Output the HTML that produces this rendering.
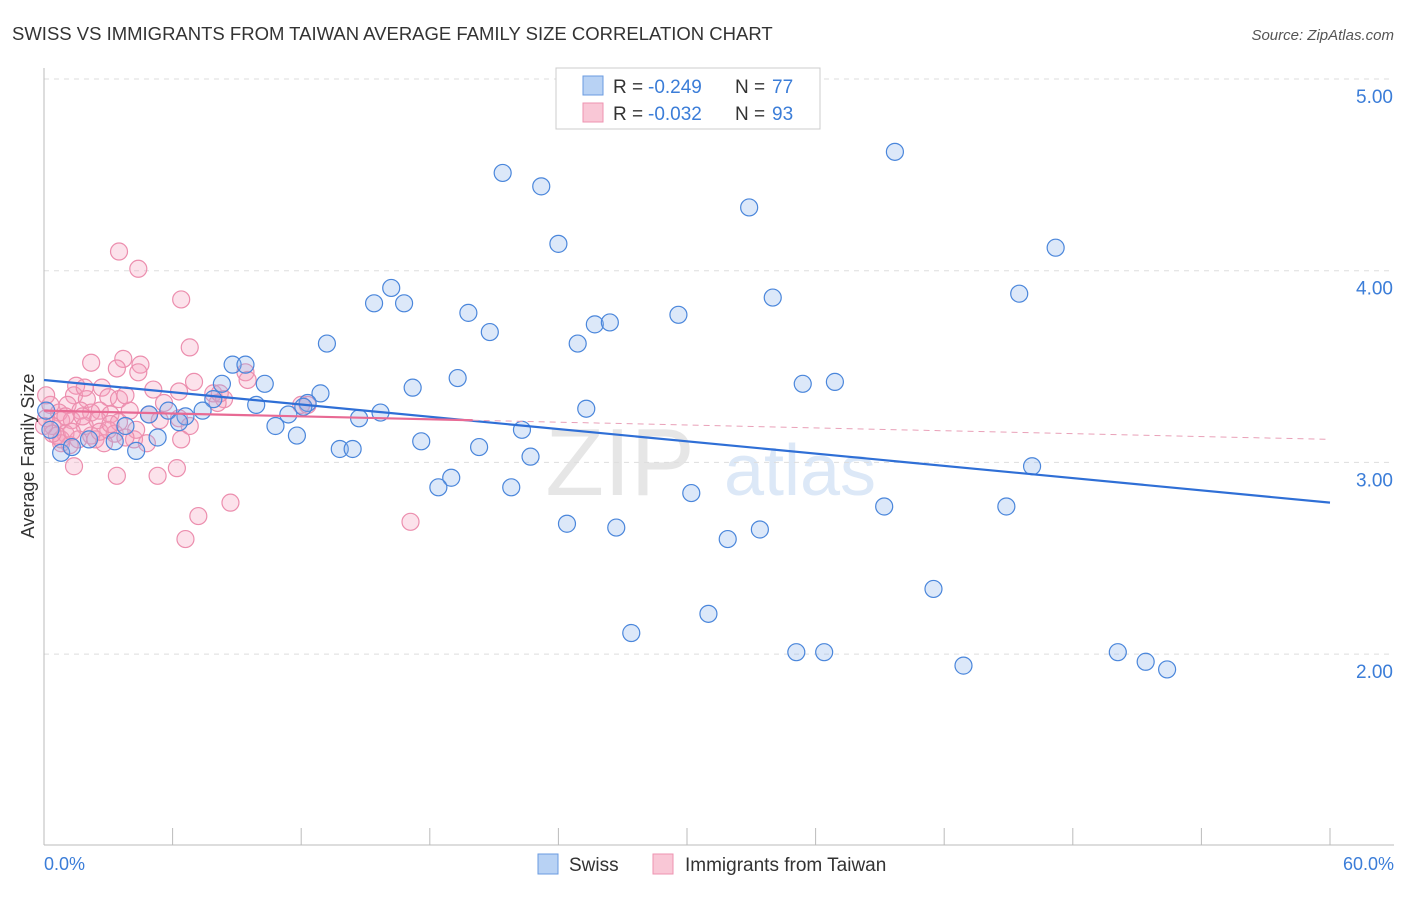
<!DOCTYPE html>
<html><head><meta charset="utf-8"><style>
body{margin:0;background:#fff;font-family:"Liberation Sans",sans-serif}
svg text{font-family:"Liberation Sans",sans-serif}
</style></head><body>
<svg id="chart" width="1406" height="892" xmlns="http://www.w3.org/2000/svg">
<text x="12" y="40" font-size="18.5" fill="#333">SWISS VS IMMIGRANTS FROM TAIWAN AVERAGE FAMILY SIZE CORRELATION CHART</text>
<text x="1394" y="40" font-size="15" fill="#555" font-style="italic" text-anchor="end">Source: ZipAtlas.com</text>
<text x="620" y="495" font-size="96" fill="#e6e6e6" font-family="Liberation Serif" text-anchor="middle">ZIP</text>
<text x="800" y="495" font-size="72" fill="#dce8f7" text-anchor="middle">atlas</text>
<g id="grid"></g>
<g id="axes"></g>
<g id="pink"></g>
<g id="blue"></g>
<g id="trends"></g>
<text transform="translate(34,456) rotate(-90)" font-size="18" fill="#333" text-anchor="middle">Average Family Size</text>
<text x="44" y="870" font-size="18" fill="#3b7dd8">0.0%</text>
<text x="1394" y="870" font-size="18" fill="#3b7dd8" text-anchor="end">60.0%</text>
<g>
<rect x="556" y="68" width="264" height="61" fill="#fff" stroke="#ccc"/>
<rect x="583" y="76" width="20" height="19" fill="#b8d2f4" stroke="#6a9be0"/>
<rect x="583" y="103" width="20" height="19" fill="#f9c7d6" stroke="#ee93b0"/>
<text x="613" y="93" font-size="19" fill="#333">R =</text>
<text x="648" y="93" font-size="19" fill="#3b7dd8">-0.249</text>
<text x="735" y="93" font-size="19" fill="#333">N =</text>
<text x="772" y="93" font-size="19" fill="#3b7dd8">77</text>
<text x="613" y="120" font-size="19" fill="#333">R =</text>
<text x="648" y="120" font-size="19" fill="#3b7dd8">-0.032</text>
<text x="735" y="120" font-size="19" fill="#333">N =</text>
<text x="772" y="120" font-size="19" fill="#3b7dd8">93</text>
</g>
<g>
<rect x="538" y="854" width="20" height="20" fill="#b8d2f4" stroke="#6a9be0"/>
<text x="569" y="871" font-size="19" fill="#333">Swiss</text></g>
<g>
<rect x="653" y="854" width="20" height="20" fill="#f9c7d6" stroke="#ee93b0"/>
<text x="685" y="871" font-size="19" fill="#333">Immigrants from Taiwan</text></g>
</svg>
<script>
const yTicks=[2,3,4,5];
const yTickLabels=["2.00","3.00","4.00","5.00"];
const xTicks=[0,6,12,18,24,30,36,42,48,54,60];
const blueX=[39.7,21.4,23.2,32.9,24.0,47.2,16.2,15.4,16.8,34.0,45.5,19.8,29.6,25.7,26.4,20.8,24.9,13.2,8.8,9.4,10.3,8.3,19.3,17.2,35.4,36.9,12.9,7.9,9.9,12.3,12.1,7.4,5.8,4.9,6.6,11.4,15.7,14.7,25.3,6.3,3.8,10.8,22.3,11.8,5.3,3.3,17.6,20.3,13.8,14.4,4.3,0.8,1.3,22.7,46.1,19.0,18.4,21.8,30.2,39.2,44.9,24.4,26.7,33.4,31.9,41.5,31.0,27.4,35.1,36.4,42.9,50.1,51.4,52.4,0.3,2.1,0.1];
const blueY=[4.62,4.51,4.44,4.33,4.14,4.12,3.91,3.83,3.83,3.86,3.88,3.78,3.77,3.72,3.73,3.68,3.62,3.62,3.51,3.51,3.41,3.41,3.44,3.39,3.41,3.42,3.36,3.33,3.30,3.31,3.29,3.27,3.27,3.25,3.24,3.25,3.26,3.23,3.28,3.21,3.19,3.19,3.17,3.14,3.13,3.11,3.11,3.08,3.07,3.07,3.06,3.05,3.08,3.03,2.98,2.92,2.87,2.87,2.84,2.77,2.77,2.68,2.66,2.65,2.60,2.34,2.21,2.11,2.01,2.01,1.94,2.01,1.96,1.92,3.17,3.12,3.27];
const pinkX=[3.5,4.4,6.4,6.8,2.2,3.7,4.5,4.4,3.4,9.4,9.5,7.0,1.5,2.7,5.1,6.3,7.9,8.4,3.0,1.4,2.0,3.5,5.6,8.1,12.0,1.1,0.3,1.7,2.6,4.0,0.7,2.2,3.1,4.9,6.3,0.1,0.8,1.3,2.5,3.5,5.4,6.8,0.4,1.9,3.0,1.0,3.3,2.2,0.6,1.6,2.4,6.4,4.8,1.2,0.8,2.8,4.2,1.4,3.4,6.2,5.3,8.7,7.2,6.6,17.1,0.1,0.8,3.8,1.9,2.6,1.0,1.8,0.4,0.0,1.3,3.1,4.3,8.2,12.3,3.8];
const pinkY=[4.10,4.01,3.85,3.60,3.52,3.54,3.51,3.47,3.49,3.47,3.43,3.42,3.40,3.39,3.38,3.37,3.36,3.33,3.34,3.35,3.33,3.33,3.31,3.31,3.30,3.30,3.30,3.27,3.27,3.27,3.26,3.26,3.25,3.25,3.23,3.23,3.22,3.22,3.22,3.21,3.22,3.19,3.19,3.19,3.17,3.15,3.15,3.14,3.14,3.12,3.12,3.12,3.10,3.09,3.10,3.10,3.12,2.98,2.93,2.97,2.93,2.79,2.72,2.60,2.69,3.35,3.12,3.35,3.39,3.16,3.24,3.24,3.15,3.19,3.16,3.20,3.17,3.36,3.30,3.13];
const blueTrend=[3.43,2.79];
const pinkTrend=[3.27,3.12];
const pinkSolidEnd=20;
const NS="http://www.w3.org/2000/svg";
const X0=44,X1=1330,Y5=79,YPU=191.7;
function sx(v){return X0+(v/60)*(X1-X0);}
function sy(v){return Y5+(5-v)*YPU;}
function mk(tag,attrs,parent){const e=document.createElementNS(NS,tag);for(const k in attrs)e.setAttribute(k,attrs[k]);parent.appendChild(e);return e;}
const grid=document.getElementById('grid'),axes=document.getElementById('axes');
yTicks.forEach((t,i)=>{
  const l=mk('line',{x1:44,x2:1394,y1:sy(t),y2:sy(t),stroke:'#ddd','stroke-dasharray':'5,5'},grid);
  
  
  const tx=mk('text',{x:1393,y:sy(t)+24,'font-size':19,fill:'#3b7dd8','text-anchor':'end'},axes);
  tx.textContent=yTickLabels[i];
  
  
});
const ax=mk('line',{x1:44,x2:44,y1:68,y2:845,stroke:'#bbb'},axes);


const bx=mk('line',{x1:44,x2:1394,y1:845,y2:845,stroke:'#bbb'},axes);


xTicks.forEach(t=>{
  const l=mk('line',{x1:sx(t),x2:sx(t),y1:828,y2:845,stroke:'#bbb'},axes);
  
  
});
const pg=document.getElementById('pink');
pinkX.forEach((v,i)=>{
  const c=mk('circle',{cx:sx(v),cy:sy(pinkY[i]),r:8.5,fill:'rgba(244,160,190,0.3)',stroke:'#ec8eae','stroke-width':1.2},pg);
  
  
});
const bg=document.getElementById('blue');
blueX.forEach((v,i)=>{
  const c=mk('circle',{cx:sx(v),cy:sy(blueY[i]),r:8.5,fill:'rgba(140,180,235,0.3)',stroke:'#4a86db','stroke-width':1.2},bg);
  
  
});
const tg=document.getElementById('trends');
const bt=mk('line',{x1:sx(0),y1:sy(blueTrend[0]),x2:sx(60),y2:sy(blueTrend[1]),stroke:'#2f6fd6','stroke-width':2.2},tg);


const pm=pinkTrend[0]+(pinkTrend[1]-pinkTrend[0])*pinkSolidEnd/60;
const pt=mk('line',{x1:sx(0),y1:sy(pinkTrend[0]),x2:sx(pinkSolidEnd),y2:sy(pm),stroke:'#e86a94','stroke-width':2.2},tg);


const pd=mk('line',{x1:sx(pinkSolidEnd),y1:sy(pm),x2:sx(60),y2:sy(pinkTrend[1]),stroke:'#e9a0b8','stroke-width':1,'stroke-dasharray':'6,5'},tg);


</script>
</body></html>
